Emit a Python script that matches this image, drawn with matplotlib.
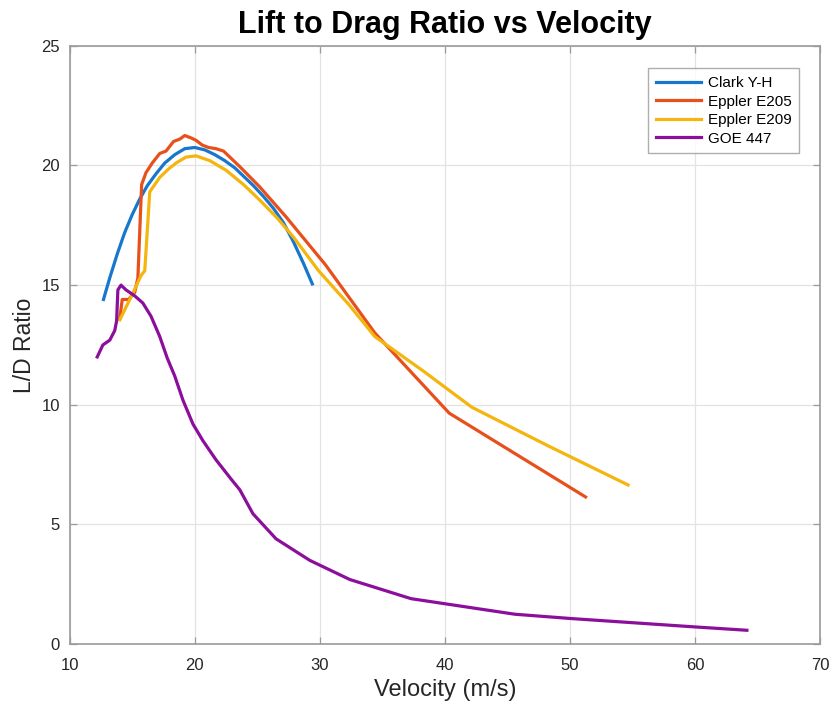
import numpy as np
import matplotlib.pyplot as plt

# data
clark_v = [12.7, 13.2, 13.8, 14.4, 15.0, 15.6, 16.2, 16.9, 17.6, 18.4, 19.2, 20.0,
           20.8, 21.6, 22.4, 23.2, 24.0, 24.7, 25.5, 26.3, 27.1, 27.9, 28.7, 29.4]
clark_ld = [14.4, 15.3, 16.3, 17.2, 17.95, 18.6, 19.15, 19.65, 20.1, 20.45, 20.7, 20.75,
            20.65, 20.45, 20.2, 19.9, 19.5, 19.15, 18.7, 18.2, 17.6, 16.8, 15.9, 15.05]

e205_v = [14.0, 14.2, 14.7, 15.2, 15.45, 15.75, 16.1, 16.6, 17.2, 17.7, 18.3, 18.8,
          19.2, 19.7, 20.1, 20.6, 21.1, 21.7, 22.3, 22.9, 23.6, 25.2, 27.3, 30.45,
          34.4, 40.35, 51.25]
e205_ld = [13.6, 14.4, 14.4, 14.7, 15.3, 19.2, 19.7, 20.1, 20.5, 20.6, 21.0, 21.1,
           21.25, 21.15, 21.05, 20.85, 20.75, 20.7, 20.6, 20.3, 19.95, 19.1, 17.85, 15.85,
           13.0, 9.65, 6.15]

e209_v = [14.0, 14.9, 15.7, 16.0, 16.4, 17.2, 17.9, 18.5, 19.3, 20.1, 21.2, 22.5,
          23.9, 25.2, 26.6, 27.9, 29.9, 32.3, 34.4, 38.3, 42.15, 48.2, 54.65]
e209_ld = [13.55, 14.5, 15.4, 15.6, 18.9, 19.5, 19.85, 20.1, 20.35, 20.4, 20.2, 19.8,
           19.2, 18.55, 17.8, 17.0, 15.6, 14.2, 12.85, 11.4, 9.9, 8.3, 6.65]

goe_v = [12.2, 12.65, 13.2, 13.6, 13.75, 13.85, 14.1, 14.5, 15.2, 15.85, 16.5, 17.2,
         17.8, 18.4, 19.05, 19.85, 20.65, 21.7, 22.9, 23.6, 24.65, 26.5, 29.2, 32.4,
         37.3, 45.6, 50.1, 60.0, 64.15]
goe_ld = [12.0, 12.5, 12.7, 13.1, 13.5, 14.8, 15.0, 14.8, 14.55, 14.25, 13.7, 12.85,
          11.95, 11.2, 10.2, 9.2, 8.5, 7.7, 6.9, 6.45, 5.45, 4.4, 3.5, 2.7,
          1.9, 1.25, 1.07, 0.72, 0.58]

plt.rcParams['font.family'] = ['Liberation Sans', 'DejaVu Sans']

fig = plt.figure(figsize=(8.3, 7.04), dpi=100)
ax = fig.add_axes([0.084, 0.085, 0.904, 0.85])

lw = 2.3
ax.plot(clark_v, clark_ld, color='#1777CC', lw=lw, label='Clark Y-H')
ax.plot(e205_v, e205_ld, color='#E8501B', lw=lw, label='Eppler E205')
ax.plot(e209_v, e209_ld, color='#F5B50F', lw=lw, label='Eppler E209')
ax.plot(goe_v, goe_ld, color='#8C0F9C', lw=lw, label='GOE 447')

ax.set_xlim(10, 70)
ax.set_ylim(0, 25)
ax.set_xticks(np.arange(10, 71, 10))
ax.set_yticks(np.arange(0, 26, 5))
ax.grid(True, color='#e3e3e3', lw=0.9)
ax.set_axisbelow(True)

for s in ax.spines.values():
    s.set_color('#9a9a9a')
    s.set_linewidth(1.2)
ax.tick_params(direction='in', top=True, right=True, length=5, width=0.9,
               color='#9a9a9a', labelsize=12, labelcolor='#262626')
ax.tick_params(axis='x', pad=10)
ax.tick_params(axis='y', pad=7)

ax.set_title('Lift to Drag Ratio vs Velocity', fontsize=22, fontweight='bold', pad=9)
ax.set_xlabel('Velocity (m/s)', fontsize=17, color='#262626', labelpad=4)
ax.set_ylabel('L/D Ratio', fontsize=16.5, color='#262626', labelpad=4)

leg = ax.legend(loc='upper right', bbox_to_anchor=(0.982, 0.975), fontsize=11,
                fancybox=False, handlelength=3.0, borderpad=0.5, labelspacing=0.3,
                handletextpad=0.4)
leg.get_frame().set_edgecolor('#9a9a9a')
leg.get_frame().set_linewidth(1.0)

fig.savefig('out.png', dpi=100)
